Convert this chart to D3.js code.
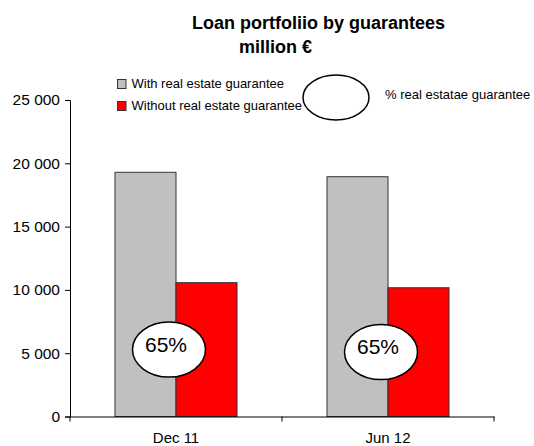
<!DOCTYPE html>
<html>
<head>
<meta charset="utf-8">
<script src="https://cdn.jsdelivr.net/npm/d3@7"></script>
<style>
  body { margin: 0; background: #fff; }
  svg { display: block; font-family: "Liberation Sans", Arial, sans-serif; }
</style>
</head>
<body>
<div id="chart"></div>
<script>
// data
var categories = ["Dec 11", "Jun 12"];
var seriesNames = ["With real estate guarantee", "Without real estate guarantee"];
var withRealEstate = [19290, 18940];
var withoutRealEstate = [10570, 10170];
var pctLabels = ["65%", "65%"];
var yTicks = [0, 5000, 10000, 15000, 20000, 25000];
var pctLegend = "% real estatae guarantee";

var svgWidth = 534;
var svgHeight = 446;
var margin = { top: 100, left: 70, right: 40, bottom: 29.5 };
var colors = ["#c0c0c0", "#ff0000"];

var svg = d3.select("#chart").append("svg")
  .attr("width", svgWidth)
  .attr("height", svgHeight);

// title
var title = svg.append("text")
  .attr("font-weight", "bold")
  .attr("font-size", "18px")
  .attr("fill", "#000");
title.append("tspan").attr("x", 192).attr("y", 29).text("Loan portfoliio by guarantees");
title.append("tspan").attr("x", 239).attr("y", 53).text("million €");

// scales
var x0 = d3.scaleBand()
  .domain(categories)
  .range([margin.left, svgWidth - margin.right])
  .padding(0);

var x1 = d3.scaleBand()
  .domain(seriesNames)
  .range([45, x0.bandwidth() - 45])
  .padding(0);

var y = d3.scaleLinear()
  .domain([0, 25000])
  .range([svgHeight - margin.bottom, margin.top]);

// y axis
var yAxis = d3.axisLeft(y)
  .tickValues(yTicks)
  .tickSize(5)
  .tickPadding(5)
  .tickFormat(function(d) { return d3.format(",")(d).replace(",", " "); });

var gy = svg.append("g")
  .attr("transform", "translate(" + margin.left + ",0)")
  .call(yAxis);
gy.selectAll("text").attr("font-size", "15.5px").attr("font-family", null).attr("fill", "#000");
gy.selectAll("line, path").attr("stroke", "#000");

// bars
var rows = categories.map(function(c, i) {
  return { cat: c, values: [withRealEstate[i], withoutRealEstate[i]] };
});

var groups = svg.append("g").selectAll("g")
  .data(rows)
  .enter()
  .append("g")
  .attr("transform", function(d) { return "translate(" + x0(d.cat) + ",0)"; });

groups.selectAll("rect")
  .data(function(d) { return d.values.map(function(v, j) { return { key: seriesNames[j], v: v, j: j }; }); })
  .enter()
  .append("rect")
  .attr("x", function(d) { return x1(d.key); })
  .attr("y", function(d) { return y(d.v); })
  .attr("width", x1.bandwidth())
  .attr("height", function(d) { return y(0) - y(d.v); })
  .attr("fill", function(d) { return colors[d.j]; })
  .attr("stroke", "#333")
  .attr("stroke-width", 1);

// x axis (drawn after bars so the line sits on top)
var xAxis = d3.axisBottom(x0).tickSize(0).tickPadding(16);
var gx = svg.append("g")
  .attr("transform", "translate(0," + y(0) + ")")
  .call(xAxis);
gx.select("path").attr("stroke", "#000");
gx.selectAll("text").attr("font-size", "15px").attr("font-family", null).attr("fill", "#000");

// category separators below the axis
var edges = [x0.range()[0]].concat(categories.map(function(c) { return x0(c) + x0.bandwidth(); }));
gx.selectAll(".sep")
  .data(edges)
  .enter()
  .append("line")
  .attr("x1", function(d) { return d; })
  .attr("x2", function(d) { return d; })
  .attr("y1", 0)
  .attr("y2", 5)
  .attr("stroke", "#000");

// percentage bubbles, centred halfway up the red bar
var bubbles = svg.append("g").selectAll("g")
  .data(rows)
  .enter()
  .append("g")
  .attr("transform", function(d, i) {
    var cx = x0(d.cat) + x1(seriesNames[1]) - 7;
    var cy = y(d.values[1] / 2);
    return "translate(" + cx + "," + cy + ")";
  });

bubbles.append("ellipse")
  .attr("rx", 36.5)
  .attr("ry", 27.5)
  .attr("fill", "#fff")
  .attr("stroke", "#000")
  .attr("stroke-width", 1.5);

bubbles.append("text")
  .attr("x", -3)
  .attr("y", 2)
  .attr("text-anchor", "middle")
  .attr("font-size", "21px")
  .attr("fill", "#000")
  .text(function(d, i) { return pctLabels[i]; });

// legend
var legend = svg.append("g").attr("font-size", "13px").attr("fill", "#000");
seriesNames.forEach(function(name, i) {
  legend.append("rect")
    .attr("x", 117.5)
    .attr("y", 79.5 + i * 22)
    .attr("width", 8.5)
    .attr("height", 9)
    .attr("fill", colors[i])
    .attr("stroke", "#333")
    .attr("stroke-width", 1);
  legend.append("text")
    .attr("x", 131.5)
    .attr("y", 87.5 + i * 22)
    .text(name);
});

legend.append("ellipse")
  .attr("cx", 336)
  .attr("cy", 97.5)
  .attr("rx", 33)
  .attr("ry", 22.5)
  .attr("fill", "#fff")
  .attr("stroke", "#000")
  .attr("stroke-width", 1.5);

legend.append("text")
  .attr("x", 385)
  .attr("y", 98.5)
  .text(pctLegend);
</script>
</body>
</html>
